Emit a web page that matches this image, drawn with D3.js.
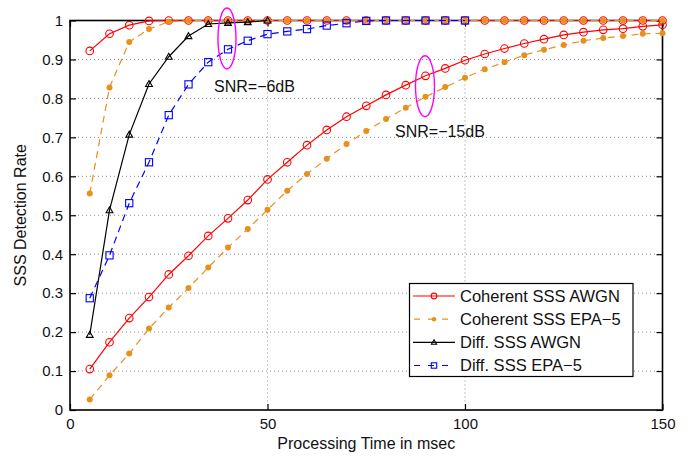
<!DOCTYPE html>
<html>
<head>
<meta charset="utf-8">
<script src="https://cdn.jsdelivr.net/npm/d3@7"></script>
<style>
  body { margin: 0; background: #fff; }
  svg { font-family: "Liberation Sans", Arial, sans-serif; }
</style>
</head>
<body>
<svg id="chart" width="692" height="459"></svg>
<script>
// processing time in msec
const time = [5, 10, 15, 20, 25, 30, 35, 40, 45, 50, 55, 60, 65, 70, 75,
              80, 85, 90, 95, 100, 105, 110, 115, 120, 125, 130, 135, 140, 145, 150];

// SNR = -6dB
const cohAwgn6 = [0.922, 0.966, 0.988, 0.999, 1, 1, 1, 1, 1, 1, 1, 1, 1, 1, 1,
                  1, 1, 1, 1, 1, 1, 1, 1, 1, 1, 1, 1, 1, 1, 1];
const cohEpa6 = [0.556, 0.828, 0.945, 0.978, 0.997, 1, 1, 1, 1, 1, 1, 1, 1, 1, 1,
                 1, 1, 1, 1, 1, 1, 1, 1, 1, 1, 1, 1, 1, 1, 1];
const diffAwgn6 = [0.193, 0.513, 0.707, 0.837, 0.907, 0.960, 0.991, 0.994, 0.996, 1.0];
const diffEpa6 = [0.287, 0.397, 0.531, 0.636, 0.757, 0.836, 0.893, 0.926, 0.948, 0.965,
                  0.972, 0.978, 0.987, 0.993, 0.999, 1, 1, 1, 1, 1];

// SNR = -15dB
const cohAwgn15 = [0.105, 0.174, 0.236, 0.290, 0.348, 0.396, 0.447, 0.492, 0.539, 0.592,
                   0.636, 0.680, 0.719, 0.753, 0.781, 0.809, 0.834, 0.858, 0.877, 0.898,
                   0.914, 0.928, 0.941, 0.952, 0.963, 0.970, 0.976, 0.979, 0.985, 0.989];
const cohEpa15 = [0.027, 0.089, 0.145, 0.209, 0.263, 0.313, 0.366, 0.417, 0.465, 0.514,
                  0.563, 0.606, 0.645, 0.683, 0.716, 0.747, 0.776, 0.804, 0.829, 0.853,
                  0.875, 0.893, 0.911, 0.925, 0.937, 0.948, 0.955, 0.960, 0.966, 0.967];

const xTicks = [0, 50, 100, 150];
const yTicks = [0, 0.1, 0.2, 0.3, 0.4, 0.5, 0.6, 0.7, 0.8, 0.9, 1];

const legendNames = ['Coherent SSS AWGN', 'Coherent SSS EPA\u22125', 'Diff. SSS AWGN', 'Diff. SSS EPA\u22125'];

const styles = {
    cohAwgn: { color: '#ff0000', dash: null, marker: 'circle' },
    cohEpa: { color: '#e8901e', dash: '7,5', marker: 'dot' },
    diffAwgn: { color: '#000000', dash: null, marker: 'triangle' },
    diffEpa: { color: '#0000ff', dash: '7,5', marker: 'square' }
};

// drawing order: red, orange, black, blue
const series = [
    { key: 'cohAwgn', values: cohAwgn15 },
    { key: 'cohAwgn', values: cohAwgn6 },
    { key: 'cohEpa', values: cohEpa15 },
    { key: 'cohEpa', values: cohEpa6 },
    { key: 'diffAwgn', values: diffAwgn6 },
    { key: 'diffEpa', values: diffEpa6 }
];

const svg = d3.select('#chart');
const plot = { left: 70, right: 662.5, top: 20.5, bottom: 410 };

const x = d3.scaleLinear().domain([0, 150]).range([plot.left, plot.right]);
const y = d3.scaleLinear().domain([0, 1]).range([plot.bottom, plot.top]);

// grid
const grid = svg.append('g')
    .attr('stroke', '#8c8c8c')
    .attr('stroke-width', 1)
    .attr('stroke-dasharray', '1,3');
grid.selectAll('.gy').data(yTicks.slice(1, -1)).enter().append('line')
    .attr('x1', plot.left).attr('x2', plot.right)
    .attr('y1', d => y(d)).attr('y2', d => y(d));
grid.selectAll('.gx').data(xTicks.slice(1, -1)).enter().append('line')
    .attr('y1', plot.top).attr('y2', plot.bottom)
    .attr('x1', d => x(d)).attr('x2', d => x(d));

// axes with inward ticks on all four sides
function styleAxis(g) {
    g.attr('font-family', null).attr('font-size', null);
    g.select('.domain').remove();
    g.selectAll('.tick line').attr('stroke', '#000').attr('stroke-width', 1.2);
    g.selectAll('.tick text').attr('fill', '#111').style('font-size', '15px');
}
const fmt = d => String(d);
svg.append('g').attr('transform', `translate(${plot.left},0)`)
    .call(d3.axisLeft(y).tickValues(yTicks).tickFormat(fmt).tickSize(-6).tickPadding(7))
    .call(styleAxis);
svg.append('g').attr('transform', `translate(${plot.right},0)`)
    .call(d3.axisRight(y).tickValues(yTicks).tickFormat('').tickSize(-6))
    .call(styleAxis);
svg.append('g').attr('transform', `translate(0,${plot.bottom})`)
    .call(d3.axisBottom(x).tickValues(xTicks).tickFormat(fmt).tickSize(-6).tickPadding(8))
    .call(styleAxis);
svg.append('g').attr('transform', `translate(0,${plot.top})`)
    .call(d3.axisTop(x).tickValues(xTicks).tickFormat('').tickSize(-6))
    .call(styleAxis);

svg.append('rect')
    .attr('x', plot.left).attr('y', plot.top)
    .attr('width', plot.right - plot.left).attr('height', plot.bottom - plot.top)
    .attr('fill', 'none').attr('stroke', '#000').attr('stroke-width', 1.6);

// axis labels
svg.append('text')
    .attr('x', (plot.left + plot.right) / 2).attr('y', 449)
    .attr('text-anchor', 'middle').style('font-size', '16px').attr('fill', '#111')
    .text('Processing Time in msec');
svg.append('text')
    .attr('transform', `translate(26,${(plot.top + plot.bottom) / 2}) rotate(-90)`)
    .attr('text-anchor', 'middle').style('font-size', '16px').attr('fill', '#111')
    .text('SSS Detection Rate');

function drawMarker(g, type, color, cx, cy, scale) {
    const s = scale || 1;
    if (type === 'circle') {
        g.append('circle').attr('cx', cx).attr('cy', cy).attr('r', 3.8 * s)
            .attr('fill', 'none').attr('stroke', color).attr('stroke-width', 1.1);
    } else if (type === 'dot') {
        g.append('circle').attr('cx', cx).attr('cy', cy).attr('r', 3 * s)
            .attr('fill', color).attr('stroke', 'none');
    } else if (type === 'triangle') {
        const h = 3.4 * s;
        g.append('path')
            .attr('d', `M${cx},${cy - h}L${cx + h},${cy + h * 0.75}L${cx - h},${cy + h * 0.75}Z`)
            .attr('fill', 'none').attr('stroke', color).attr('stroke-width', 1.1);
    } else if (type === 'square') {
        const h = 3.6 * s;
        g.append('rect').attr('x', cx - h).attr('y', cy - h)
            .attr('width', 2 * h).attr('height', 2 * h)
            .attr('fill', 'none').attr('stroke', color).attr('stroke-width', 1.1);
    }
}

const line = d3.line().x(d => x(d[0])).y(d => y(d[1]));

series.forEach(sr => {
    const st = styles[sr.key];
    const pts = sr.values.map((v, i) => [time[i], v]);
    const g = svg.append('g');
    g.append('path')
        .attr('d', line(pts))
        .attr('fill', 'none')
        .attr('stroke', st.color)
        .attr('stroke-width', 1.2)
        .attr('stroke-dasharray', st.dash);
    pts.forEach(p => drawMarker(g, st.marker, st.color, x(p[0]), y(p[1])));
});

// SNR annotations
svg.append('ellipse')
    .attr('cx', 227).attr('cy', 38.5).attr('rx', 9).attr('ry', 30.5)
    .attr('fill', 'none').attr('stroke', '#ff00ff').attr('stroke-width', 1.4);
svg.append('ellipse')
    .attr('cx', 425).attr('cy', 86.2).attr('rx', 9.5).attr('ry', 30.5)
    .attr('fill', 'none').attr('stroke', '#ff00ff').attr('stroke-width', 1.4);
svg.append('text').attr('x', 214).attr('y', 91.5)
    .style('font-size', '16px').attr('fill', '#111').text('SNR=\u22126dB');
svg.append('text').attr('x', 395).attr('y', 136.5)
    .style('font-size', '16px').attr('fill', '#111').text('SNR=\u221215dB');

// legend
const legend = svg.append('g');
legend.append('rect')
    .attr('x', 409.5).attr('y', 283.5).attr('width', 223.5).attr('height', 93)
    .attr('fill', '#fff').attr('stroke', '#000').attr('stroke-width', 1.2);
const legendKeys = ['cohAwgn', 'cohEpa', 'diffAwgn', 'diffEpa'];
const rowY = d3.scaleLinear().domain([0, 3]).range([296, 365.5]);
legendKeys.forEach((k, i) => {
    const st = styles[k];
    const yy = rowY(i);
    legend.append('line')
        .attr('x1', 413).attr('x2', 455).attr('y1', yy).attr('y2', yy)
        .attr('stroke', st.color).attr('stroke-width', 1.2)
        .attr('stroke-dasharray', st.dash ? '6,8' : null)
        .attr('stroke-dashoffset', st.dash ? -1 : null);
    drawMarker(legend, st.marker, st.color, 434, yy, 0.75);
    legend.append('text')
        .attr('x', 460).attr('y', yy + 5.5)
        .style('font-size', '16.5px').attr('fill', '#111')
        .text(legendNames[i]);
});
</script>
</body>
</html>
